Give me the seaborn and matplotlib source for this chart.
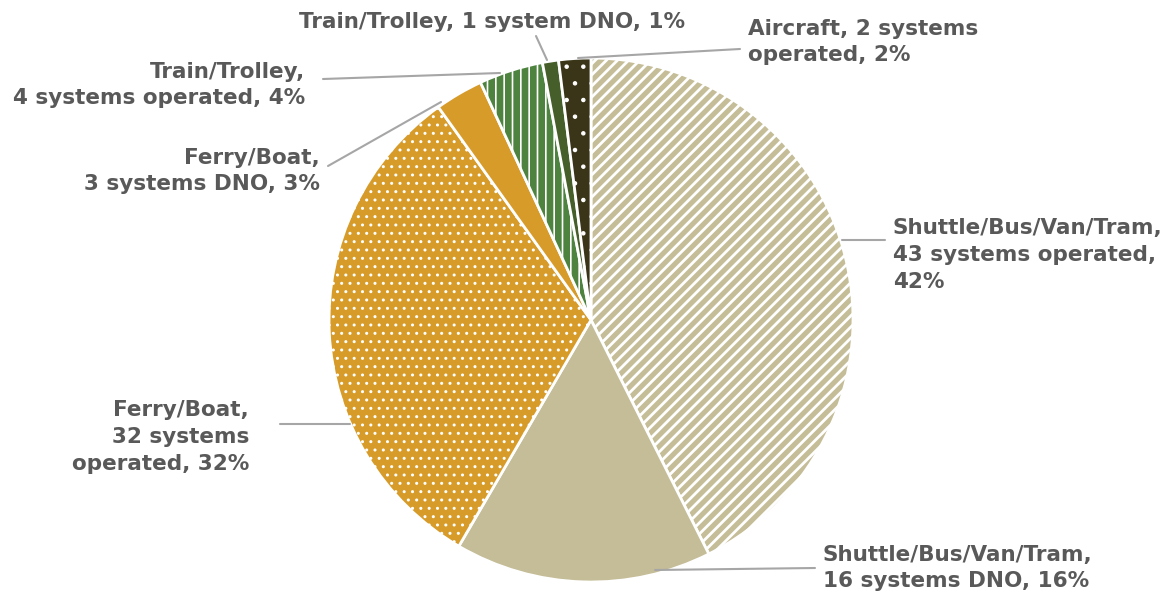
import matplotlib
matplotlib.use("Agg")
import matplotlib.pyplot as plt
import seaborn as sns

sns.set_theme(style="white")
plt.rcParams['font.family'] = ['DejaVu Sans']

categories = ["Shuttle/Bus/Van/Tram, 43 systems operated",
              "Shuttle/Bus/Van/Tram, 16 systems DNO",
              "Ferry/Boat, 32 systems operated",
              "Ferry/Boat, 3 systems DNO",
              "Train/Trolley, 4 systems operated",
              "Train/Trolley, 1 system DNO",
              "Aircraft, 2 systems operated"]
values = [43, 16, 32, 3, 4, 1, 2]
labels = ["Shuttle/Bus/Van/Tram,\n43 systems operated,\n42%",
          "Shuttle/Bus/Van/Tram,\n16 systems DNO, 16%",
          "Ferry/Boat,\n32 systems\noperated, 32%",
          "Ferry/Boat,\n3 systems DNO, 3%",
          "Train/Trolley,\n4 systems operated, 4%",
          "Train/Trolley, 1 system DNO, 1%",
          "Aircraft, 2 systems\noperated, 2%"]
colors = ["#C4BD97", "#C4BD97", "#D79B2A", "#D79B2A", "#4D833F", "#465F2A", "#3A3519"]
hatches = ["///", None, "..", None, "||", None, "."]
hatch_lw = {"///": 2.0, "..": 1.0, "||": 1.2, ".": 0.8}

W, H = 1172, 596
fig = plt.figure(figsize=(W / 100, H / 100), dpi=100)
ax = fig.add_axes([0, 0, 1, 1])

cx, cy, r = 591, H - 320, 262
wedges, _ = ax.pie(values, colors=colors, startangle=90, counterclock=False,
                   center=(cx, cy), radius=r, frame=True,
                   wedgeprops=dict(edgecolor="white", linewidth=2))
ax.set_xlim(0, W)
ax.set_ylim(0, H)
ax.axis("off")
for w, h in zip(wedges, hatches):
    if h:
        w.set_hatch(h)
        if hasattr(w, "set_hatch_linewidth"):
            w.set_hatch_linewidth(hatch_lw[h])

# label placements (text x, y in pixel coords from top, alignment, leader line)
place = [
    (893, 255, "left", [(842, 240), (885, 240)]),
    (823, 568, "left", [(655, 570), (815, 568)]),
    (249, 437, "right", [(280, 424), (350, 424)]),
    (320, 171, "right", [(328, 166), (441, 102)]),
    (305, 85, "right", [(323, 79), (500, 73)]),
    (492, 22, "center", [(536, 36), (547, 60)]),
    (748, 42, "left", [(578, 58), (740, 49)]),
]
for lab, (x, y, ha, line) in zip(labels, place):
    ax.text(x, H - y, lab, ha=ha, va="center", fontsize=15.5, fontweight="bold",
            color="#595959", linespacing=1.42, multialignment=ha)
    ax.plot([p[0] for p in line], [H - p[1] for p in line], color="#A6A6A6", lw=1.5)

fig.savefig("out.png", dpi=100)
